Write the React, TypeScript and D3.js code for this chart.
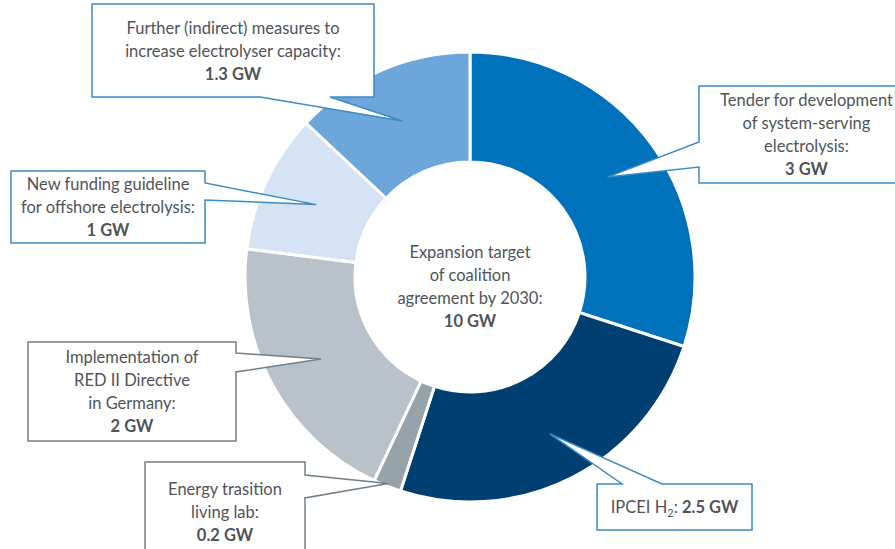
import * as d3 from 'd3'

// segments clockwise from 12 o'clock
const categories = [
  'Tender for development of system-serving electrolysis',
  'IPCEI H2',
  'Energy trasition living lab',
  'Implementation of RED II Directive in Germany',
  'New funding guideline for offshore electrolysis',
  'Further (indirect) measures to increase electrolyser capacity',
]
const values = [3, 2.5, 0.2, 2, 1, 1.3]
const valueLabels = ['3 GW', '2.5 GW', '0.2 GW', '2 GW', '1 GW', '1.3 GW']
const colors = ['#0071bb', '#003f72', '#97a3ab', '#b9c2ca', '#d5e3f4', '#6ca6db']
const labelLines = [
  ['Tender for development', 'of system-serving', 'electrolysis:'],
  [],
  ['Energy trasition', 'living lab:'],
  ['Implementation of', 'RED II Directive', 'in Germany:'],
  ['New funding guideline', 'for offshore electrolysis:'],
  ['Further (indirect) measures to', 'increase electrolyser capacity:'],
]
const centerLines = ['Expansion target', 'of coalition', 'agreement by 2030:']
const centerValue = '10 GW'

const width = 895
const height = 549
const cx = 470
const cy = 277
const outerR = 225
const innerR = 115

type Side = 'top' | 'right' | 'bottom' | 'left'
type Callout = {
  x: number
  y: number
  w: number
  h: number
  side: Side
  b0: number
  b1: number
  tipR: number
  stroke: string
}

const blueBorder = '#3b8bc9'
const grayBorder = '#737f87'

const callouts: Callout[] = [
  { x: 699, y: 86, w: 215, h: 97, side: 'left', b0: 142, b1: 167, tipR: 170, stroke: blueBorder },
  { x: 597, y: 484, w: 155, h: 46, side: 'top', b0: 622, b1: 662, tipR: 176, stroke: blueBorder },
  { x: 145, y: 462, w: 160, h: 100, side: 'right', b0: 475, b1: 498, tipR: 222, stroke: grayBorder },
  { x: 28, y: 342, w: 208, h: 99, side: 'right', b0: 353, b1: 372, tipR: 170, stroke: grayBorder },
  { x: 11, y: 171, w: 194, h: 72, side: 'right', b0: 183, b1: 200, tipR: 170, stroke: blueBorder },
  { x: 92, y: 4, w: 282, h: 93, side: 'bottom', b0: 260, b1: 330, tipR: 170, stroke: blueBorder },
]

const calloutPath = (c: Callout, tip: [number, number]) => {
  const p = d3.path()
  const r = c.x + c.w
  const b = c.y + c.h
  p.moveTo(c.x, c.y)
  if (c.side === 'top') {
    p.lineTo(c.b0, c.y)
    p.lineTo(tip[0], tip[1])
    p.lineTo(c.b1, c.y)
  }
  p.lineTo(r, c.y)
  if (c.side === 'right') {
    p.lineTo(r, c.b0)
    p.lineTo(tip[0], tip[1])
    p.lineTo(r, c.b1)
  }
  p.lineTo(r, b)
  if (c.side === 'bottom') {
    p.lineTo(c.b1, b)
    p.lineTo(tip[0], tip[1])
    p.lineTo(c.b0, b)
  }
  p.lineTo(c.x, b)
  if (c.side === 'left') {
    p.lineTo(c.x, c.b1)
    p.lineTo(tip[0], tip[1])
    p.lineTo(c.x, c.b0)
  }
  p.closePath()
  return p.toString()
}

const textColor = '#4f5459'
const lineH = 23
const fs = 16.5

export default function App() {
  const pie = d3
    .pie<number>()
    .sort(null)
    .value((d) => d)
  const arcs = pie(values)
  const arc = d3
    .arc<d3.PieArcDatum<number>>()
    .innerRadius(innerR)
    .outerRadius(outerR)

  return (
    <svg
      width={width}
      height={height}
      style={{ position: 'absolute', left: 0, top: 0, fontFamily: 'Lato, sans-serif' }}
    >
      <rect width={width} height={height} fill="#fff" />
      <g transform={`translate(${cx},${cy})`}>
        {arcs.map((a, i) => (
          <path key={categories[i]} d={arc(a) ?? ''} fill={colors[i]} stroke="#fff" strokeWidth={3} />
        ))}
        <text textAnchor="middle" fontSize={fs} fill={textColor}>
          {centerLines.map((l, j) => (
            <tspan key={l} x={0} y={-19 + j * lineH}>
              {l}
            </tspan>
          ))}
          <tspan x={0} y={-19 + centerLines.length * lineH} fontWeight="bold">
            {centerValue}
          </tspan>
        </text>
      </g>
      {callouts.map((c, i) => {
        const a = arcs[i]
        const mid = (a.startAngle + a.endAngle) / 2
        const tip: [number, number] = [cx + c.tipR * Math.sin(mid), cy - c.tipR * Math.cos(mid)]
        const lines = labelLines[i]
        const tx = c.x + c.w / 2
        const n = lines.length + 1
        const y0 = c.y + c.h / 2 - ((n - 1) * lineH) / 2 + 6
        return (
          <g key={categories[i]}>
            <path d={calloutPath(c, tip)} fill="#fff" stroke={c.stroke} strokeWidth={1.5} strokeLinejoin="miter" />
            {i === 1 ? (
              <text x={tx} y={c.y + c.h / 2 + 6} textAnchor="middle" fontSize={fs} fill={textColor}>
                IPCEI H
                <tspan fontSize={11} dy={4}>
                  2
                </tspan>
                <tspan dy={-4}>: </tspan>
                <tspan fontWeight="bold">{valueLabels[i]}</tspan>
              </text>
            ) : (
              <text textAnchor="middle" fontSize={fs} fill={textColor}>
                {lines.map((l, j) => (
                  <tspan key={l} x={tx} y={y0 + j * lineH}>
                    {l}
                  </tspan>
                ))}
                <tspan x={tx} y={y0 + lines.length * lineH} fontWeight="bold">
                  {valueLabels[i]}
                </tspan>
              </text>
            )}
          </g>
        )
      })}
    </svg>
  )
}
